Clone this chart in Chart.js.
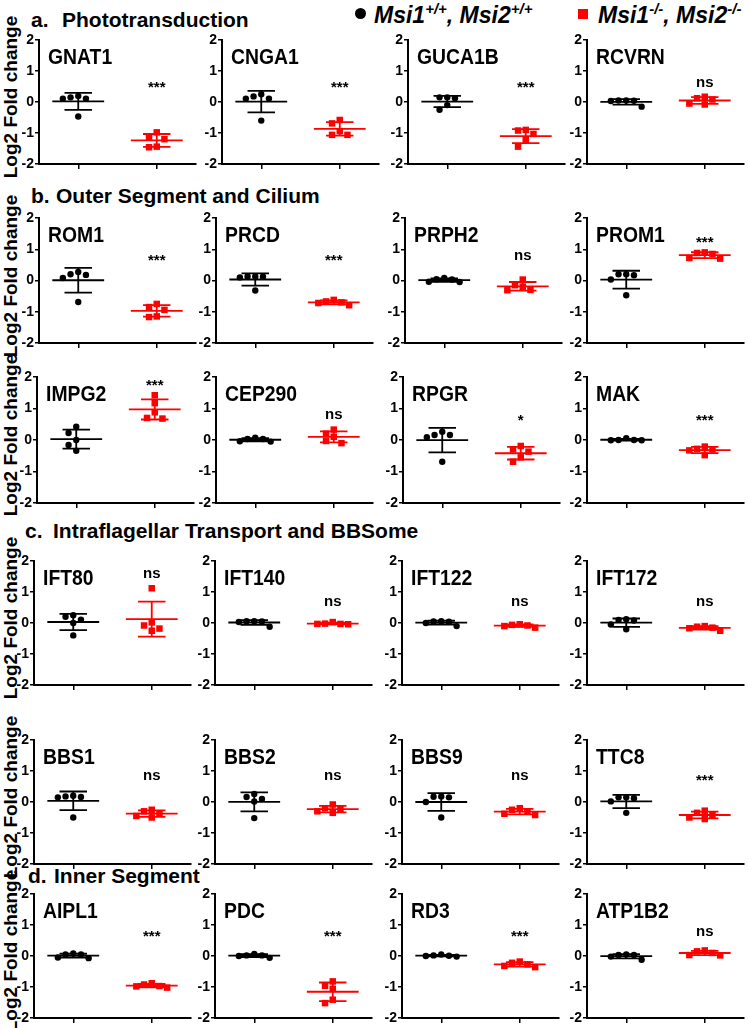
<!DOCTYPE html>
<html>
<head>
<meta charset="utf-8">
<script src="https://cdn.jsdelivr.net/npm/chart.js@4.4.1/dist/chart.umd.min.js"></script>
<style>
  body { margin: 0; background: #fff; width: 748px; height: 1028px; position: relative; overflow: hidden;
         font-family: "Liberation Sans", Arial, sans-serif; color: #000; }
  .abs { position: absolute; white-space: nowrap; }
  .sec { font-weight: bold; font-size: 21px; line-height: 21px; }
  .ytitle { font-weight: bold; font-size: 19px; line-height: 20px; width: 220px; text-align: center; transform: rotate(-90deg); }
  .leg { font-weight: bold; font-style: italic; font-size: 23px; line-height: 23px; }
  .leg sup { font-size: 15px; vertical-align: baseline; position: relative; top: -9px; }
  canvas { position: absolute; }
</style>
</head>
<body>
<script>
// ---- data (log2 fold change, n = 5 per genotype) ----
const genes = ['GNAT1', 'CNGA1', 'GUCA1B', 'RCVRN',
               'ROM1', 'PRCD', 'PRPH2', 'PROM1',
               'IMPG2', 'CEP290', 'RPGR', 'MAK',
               'IFT80', 'IFT140', 'IFT122', 'IFT172',
               'BBS1', 'BBS2', 'BBS9', 'TTC8',
               'AIPL1', 'PDC', 'RD3', 'ATP1B2'];

// Msi1+/+, Msi2+/+
const wtValues = [
  [0.19, 0.11, 0.11, 0.15, -0.47],
  [0.25, 0.11, 0.11, 0.18, -0.60],
  [0.15, 0.12, 0.15, -0.10, -0.25],
  [0.05, 0.04, 0.05, 0.03, -0.15],
  [0.27, 0.18, 0.08, 0.20, -0.69],
  [0.13, 0.12, 0.10, 0.13, -0.32],
  [0.08, 0.03, -0.04, -0.05, 0.04],
  [0.20, 0.17, 0.03, 0.20, -0.47],
  [0.42, 0.22, 0.00, -0.16, -0.34],
  [0.07, 0.03, -0.04, -0.05, 0.03],
  [0.26, 0.16, 0.09, 0.16, -0.69],
  [0.06, 0.00, -0.01, -0.01, 0.00],
  [0.25, 0.11, 0.20, 0.00, -0.40],
  [0.06, 0.05, 0.03, 0.06, -0.12],
  [0.06, 0.05, 0.04, 0.00, -0.10],
  [0.12, 0.10, 0.08, -0.05, -0.20],
  [0.20, 0.16, 0.18, 0.15, -0.50],
  [0.26, 0.16, 0.10, 0.02, -0.52],
  [0.18, 0.17, 0.15, 0.00, -0.50],
  [0.15, 0.12, 0.15, 0.02, -0.35],
  [0.08, 0.05, -0.07, -0.05, 0.05],
  [0.07, 0.02, -0.06, 0.00, 0.02],
  [0.05, 0.02, 0.00, -0.02, 0.01],
  [0.05, 0.03, -0.02, -0.12, 0.03]
];

// Msi1-/-, Msi2-/-
const koValues = [
  [-0.98, -1.12, -1.20, -1.44, -1.46],
  [-0.58, -0.69, -0.94, -1.06, -1.06],
  [-0.90, -0.92, -1.03, -1.22, -1.44],
  [0.17, 0.12, 0.08, -0.05, -0.08],
  [-0.75, -0.85, -0.94, -1.15, -1.17],
  [-0.62, -0.67, -0.70, -0.72, -0.79],
  [0.03, -0.15, -0.20, -0.30, -0.31],
  [0.90, 0.88, 0.85, 0.72, 0.70],
  [1.42, 1.17, 0.88, 0.70, 0.68],
  [0.33, 0.20, 0.10, -0.03, -0.10],
  [-0.19, -0.30, -0.37, -0.55, -0.69],
  [-0.21, -0.28, -0.30, -0.33, -0.48],
  [1.12, 0.02, -0.08, -0.18, -0.25],
  [0.03, -0.02, -0.03, -0.04, -0.03],
  [-0.04, -0.06, -0.08, -0.10, -0.15],
  [-0.10, -0.12, -0.15, -0.17, -0.25],
  [-0.25, -0.30, -0.38, -0.45, -0.50],
  [-0.08, -0.20, -0.22, -0.30, -0.35],
  [-0.20, -0.25, -0.30, -0.38, -0.42],
  [-0.28, -0.35, -0.42, -0.50, -0.55],
  [-0.88, -0.92, -0.97, -1.02, -0.98],
  [-0.82, -0.96, -1.06, -1.41, -1.52],
  [-0.18, -0.22, -0.27, -0.32, -0.36],
  [0.18, 0.15, 0.10, 0.03, 0.02]
];

const significance = ['***', '***', '***', 'ns',
                      '***', '***', 'ns', '***',
                      '***', 'ns', '*', '***',
                      'ns', 'ns', 'ns', 'ns',
                      'ns', 'ns', 'ns', '***',
                      '***', '***', '***', 'ns'];

const yTicks = [-2, -1, 0, 1, 2];
const sectionLetters = ['a.', 'b.', 'c.', 'd.'];
const sectionTitles = ['Phototransduction', 'Outer Segment and Cilium',
                       'Intraflagellar Transport and BBSome', 'Inner Segment'];
const yTitle = 'Log2 Fold change';

// ---- layout ----
const FONT = '"Liberation Sans", Arial, sans-serif';
const rows = [
  { top: 40,  bottom: 164,  lefts: [39, 222, 408, 587], sigBase: 0.62 },
  { top: 218, bottom: 343,  lefts: [39, 216, 405, 587], sigBase: 0.77 },
  { top: 377, bottom: 503,  lefts: [37, 216, 403, 587], sigBase: 0.76 },
  { top: 561, bottom: 685,  lefts: [34, 215, 402, 587], sigBase: 0.66 },
  { top: 740, bottom: 864,  lefts: [34, 215, 402, 587], sigBase: 0.84 },
  { top: 894, bottom: 1018, lefts: [34, 215, 402, 587], sigBase: 0.77 }
];
const sectionPos = [
  { lx: 31, tx: 62, base: 27 }, { lx: 31, tx: 56, base: 203 },
  { lx: 25, tx: 53, base: 538 }, { lx: 28, tx: 54, base: 883 }
];
const PLOT_W = 157, YW = 32, XH = 10, PAD_T = 12, PAD_R = 6;

function addDiv(cls, html, left, top) {
  const d = document.createElement('div');
  d.className = 'abs ' + cls;
  d.innerHTML = html;
  d.style.left = left + 'px';
  d.style.top = top + 'px';
  document.body.appendChild(d);
  return d;
}

// section headers
sectionTitles.forEach((t, i) => {
  const p = sectionPos[i];
  addDiv('sec', sectionLetters[i], p.lx, p.base - 17.8);
  addDiv('sec', t, p.tx, p.base - 17.8);
});

// legend
const dot = addDiv('', '', 355, 8);
Object.assign(dot.style, { width: '11px', height: '11px', borderRadius: '50%', background: '#000' });
addDiv('leg', 'Msi1<sup>+/+</sup>, Msi2<sup>+/+</sup>', 374, 4);
const sq = addDiv('', '', 578, 9);
Object.assign(sq.style, { width: '10px', height: '10px', background: '#f00' });
addDiv('leg', 'Msi1<sup>-/-</sup>, Msi2<sup>-/-</sup>', 598, 4);

// y titles
rows.forEach(r => {
  const cy = (r.top + r.bottom) / 2 - 5;
  addDiv('ytitle', yTitle, 11 - 110, cy - 10);
});

function mean(a) { return a.reduce((s, v) => s + v, 0) / a.length; }
function sd(a) { const m = mean(a); return Math.sqrt(a.reduce((s, v) => s + (v - m) * (v - m), 0) / (a.length - 1)); }

// spread points sideways where they overlap (like a column scatter)
function swarm(values, center, ppuX, ppuY) {
  const order = values.map((v, i) => i).sort((a, b) => values[b] - values[a]);
  const placed = [], out = new Array(values.length);
  const step = 7.7, minD = 7;
  order.forEach(i => {
    const y = values[i] * ppuY;
    for (const k of [0, -1, 1, -2, 2, -3, 3]) {
      const dx = k * step;
      if (placed.every(p => Math.hypot(p.dx - dx, p.y - y) >= minD)) {
        placed.push({ dx, y });
        out[i] = { x: center + dx / ppuX, y: values[i] };
        break;
      }
    }
  });
  return out;
}

function barData(c, values) {
  const m = mean(values), s = sd(values);
  return [
    { x: c - 0.66, y: m }, { x: c + 0.66, y: m }, { x: c, y: null },
    { x: c - 0.35, y: m + s }, { x: c + 0.35, y: m + s }, { x: c, y: null },
    { x: c - 0.35, y: m - s }, { x: c + 0.35, y: m - s }, { x: c, y: null },
    { x: c, y: m + s }, { x: c, y: m - s }
  ];
}

const labelPlugin = {
  id: 'panelLabels',
  afterDatasetsDraw(chart, args, opts) {
    const { ctx, chartArea, scales } = chart;
    ctx.save();
    ctx.fillStyle = '#000';
    ctx.textBaseline = 'alphabetic';
    ctx.textAlign = 'left';
    // gene name, slightly condensed like the original
    ctx.save();
    ctx.translate(chartArea.left + 9, chartArea.top + 23.5);
    ctx.scale(0.88, 1);
    ctx.font = 'bold 22px ' + FONT;
    ctx.fillText(opts.gene, 0, 0);
    ctx.restore();
    ctx.textAlign = 'center';
    ctx.font = 'bold 15px ' + FONT;
    const y = scales.y.getPixelForValue(opts.sigY);
    const star = opts.sig.charAt(0) === '*';
    ctx.fillText(opts.sig, scales.x.getPixelForValue(3), y + (star ? 9 : 3.9));
    ctx.restore();
  }
};

genes.forEach((gene, idx) => {
  const r = rows[Math.floor(idx / 4)];
  const left = r.lefts[idx % 4];
  const plotH = r.bottom - r.top;
  const canvas = document.createElement('canvas');
  canvas.width = YW + PLOT_W + PAD_R;
  canvas.height = PAD_T + plotH + XH;
  canvas.style.left = (left - YW) + 'px';
  canvas.style.top = (r.top - PAD_T) + 'px';
  document.body.appendChild(canvas);

  const ppuX = PLOT_W / 4, ppuY = plotH / 4;
  const wt = wtValues[idx], ko = koValues[idx];
  const sigY = Math.max(r.sigBase, Math.max(...ko) + 0.45);

  const axisGrid = { display: true, drawOnChartArea: false, drawTicks: true, color: '#000', lineWidth: 1.5 };
  const axisBorder = { display: true, color: '#000', width: 2 };

  new Chart(canvas, {
    type: 'scatter',
    data: {
      datasets: [
        { data: swarm(wt, 1, ppuX, ppuY), pointStyle: 'circle', pointRadius: 3.2, pointHoverRadius: 3.2,
          backgroundColor: '#000', borderWidth: 0 },
        { data: swarm(ko, 3, ppuX, ppuY), pointStyle: 'rect', pointRadius: 4.6, pointHoverRadius: 4.6,
          backgroundColor: '#ff0000', borderWidth: 0 },
        { data: barData(1, wt), showLine: true, spanGaps: false, borderColor: '#000', borderWidth: 1.8,
          pointRadius: 0, pointHoverRadius: 0 },
        { data: barData(3, ko), showLine: true, spanGaps: false, borderColor: '#ff0000', borderWidth: 1.8,
          pointRadius: 0, pointHoverRadius: 0 }
      ]
    },
    options: {
      responsive: false,
      animation: false,
      events: [],
      layout: { padding: { top: PAD_T, right: PAD_R, left: 0, bottom: 0 } },
      plugins: {
        legend: { display: false },
        tooltip: { enabled: false },
        panelLabels: { gene, sig: significance[idx], sigY }
      },
      scales: {
        x: {
          type: 'linear', min: 0, max: 4,
          afterBuildTicks: s => { s.ticks = [{ value: 1 }, { value: 3 }]; },
          afterFit: s => { s.height = XH; },
          ticks: { callback: () => '' },
          grid: Object.assign({ tickLength: 5 }, axisGrid),
          border: axisBorder
        },
        y: {
          min: -2, max: 2,
          afterBuildTicks: s => { s.ticks = yTicks.map(v => ({ value: v })); },
          afterFit: s => { s.width = YW; },
          ticks: { padding: 1, color: '#000', font: { family: FONT, size: 14, weight: 'bold' },
                   callback: v => String(v) },
          grid: Object.assign({ tickLength: 4 }, axisGrid),
          border: axisBorder
        }
      }
    },
    plugins: [labelPlugin]
  });
});
</script>
</body>
</html>
